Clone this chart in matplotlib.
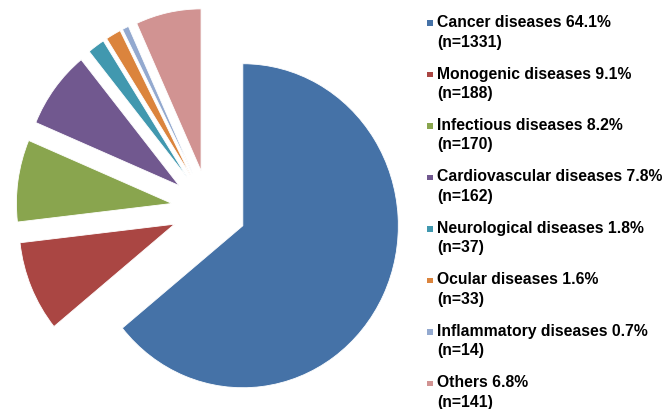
import matplotlib
matplotlib.use("Agg")
import matplotlib.pyplot as plt
from matplotlib.patches import Rectangle

categories = ["Cancer diseases", "Monogenic diseases", "Infectious diseases",
              "Cardiovascular diseases", "Neurological diseases", "Ocular diseases",
              "Inflammatory diseases", "Others"]
counts = [1331, 188, 170, 162, 37, 33, 14, 141]
percents = [64.1, 9.1, 8.2, 7.8, 1.8, 1.6, 0.7, 6.8]
colors = ["#4572A7", "#AA4643", "#89A54E", "#71588F",
          "#4198AF", "#DB843D", "#93A9CF", "#D19392"]

W, H = 668, 410
SX = 0.96  # slight horizontal squeeze of the pie area
fig = plt.figure(figsize=(W / 100, H / 100), dpi=100)
ax = fig.add_axes([0, 0, 1, 1])


def px(x):
    """Horizontal pixel position -> data x."""
    return x / SX


radius = 162
center = (px(209), H - 210)
offset = 39  # explode distance in data units
ax.pie(counts, colors=colors, startangle=90, counterclock=False,
       explode=[offset] * len(counts), radius=radius, center=center,
       wedgeprops=dict(linewidth=0.6, edgecolor="white"))
ax.set_xlim(0, px(W))
ax.set_ylim(0, H)
ax.set_aspect("auto")
ax.axis("off")

# Legend: colored square + two-line bold label
x_sq, x_txt = 427, 437
y0, step, line2 = 22.5, 51.5, 19.5
for i, (cat, n, p, c) in enumerate(zip(categories, counts, percents, colors)):
    y = y0 + i * step
    ax.add_patch(Rectangle((px(x_sq), H - (y + 4)), px(5.5), 5.5, facecolor=c,
                           edgecolor="none", clip_on=False))
    ax.text(px(x_txt), H - y, f"{cat} {p}%", fontsize=11.3, fontweight="bold",
            family="Liberation Sans", va="center", ha="left", color="#000000")
    ax.text(px(x_txt), H - (y + line2), f"(n={n})", fontsize=11.3, fontweight="bold",
            family="Liberation Sans", va="center", ha="left", color="#000000")

fig.savefig("out.png", dpi=100)
